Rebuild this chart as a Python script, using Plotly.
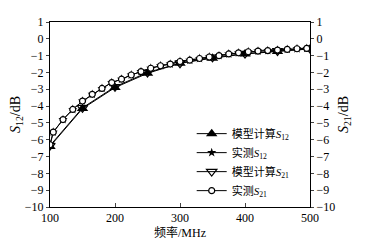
import plotly.graph_objects as go

model_freq = [100, 150, 200, 250, 300, 350, 400, 450, 500]
model_s12 = [-6.4, -4.15, -2.9, -2.05, -1.45, -1.15, -0.9, -0.75, -0.6]
model_s21 = [-6.35, -4.1, -2.85, -2.0, -1.45, -1.1, -0.88, -0.72, -0.58]

meas_freq = [100, 105, 120, 135, 150, 165, 180, 195, 210, 225, 240, 255, 270, 285,
             300, 315, 330, 345, 360, 375, 390, 405, 420, 435, 450, 465, 480, 495]
meas_s12 = [-6.3, -5.55, -4.8, -4.2, -3.7, -3.3, -2.95, -2.6, -2.4, -2.15, -1.95, -1.75,
            -1.6, -1.5, -1.35, -1.27, -1.17, -1.08, -1.0, -0.9, -0.83, -0.77, -0.73,
            -0.7, -0.67, -0.63, -0.59, -0.57]
meas_s21 = [-6.3, -5.55, -4.8, -4.2, -3.7, -3.3, -2.95, -2.6, -2.4, -2.15, -1.95, -1.75,
            -1.6, -1.5, -1.35, -1.27, -1.17, -1.08, -1.0, -0.9, -0.83, -0.77, -0.73,
            -0.7, -0.67, -0.63, -0.59, -0.57]

y_ticks = list(range(-10, 2))
x_ticks = [100, 200, 300, 400, 500]

serif = "Liberation Serif, Times New Roman, serif"
cjk = "Liberation Serif, Noto Sans CJK SC, serif"
line = dict(color="black", width=1)

fig = go.Figure()
fig.add_trace(go.Scatter(x=model_freq, y=model_s12, mode="lines+markers",
                         name="模型计算<i>S</i><sub>12</sub>", line=line,
                         marker=dict(symbol="triangle-up", size=10, color="black")))
fig.add_trace(go.Scatter(x=meas_freq, y=meas_s12, mode="lines+markers",
                         name="实测<i>S</i><sub>12</sub>", line=line,
                         marker=dict(symbol="star", size=7, color="black")))
fig.add_trace(go.Scatter(x=model_freq, y=model_s21, mode="lines+markers",
                         name="模型计算<i>S</i><sub>21</sub>", line=line,
                         marker=dict(symbol="triangle-down-open", size=9, color="black",
                                     line=dict(width=1.2))))
fig.add_trace(go.Scatter(x=meas_freq, y=meas_s21, mode="lines+markers",
                         name="实测<i>S</i><sub>21</sub>", line=line,
                         marker=dict(symbol="circle", size=6, color="white",
                                     line=dict(color="black", width=1.2))))
fig.add_trace(go.Scatter(x=[None], y=[None], yaxis="y2", showlegend=False))

fig.update_layout(
    width=370, height=239,
    margin=dict(l=42, r=68, t=14, b=40),
    paper_bgcolor="white", plot_bgcolor="white",
    font=dict(family=serif, size=12, color="black"),
    showlegend=True,
    legend=dict(x=0.545, y=0.475, xanchor="left", yanchor="top",
                bgcolor="rgba(0,0,0,0)", font=dict(family=cjk, size=11),
                tracegroupgap=0, itemwidth=30),
    xaxis=dict(range=[100, 500], tickvals=x_ticks, ticks="inside", ticklen=4,
               showline=True, linecolor="black", linewidth=1, mirror=True,
               showgrid=False, zeroline=False, automargin=False,
               title=dict(text="频率/MHz", font=dict(family=cjk, size=12), standoff=2)),
    yaxis=dict(range=[-10, 1], tickvals=y_ticks, ticks="outside", ticklen=3,
               showline=True, linecolor="black", linewidth=1,
               showgrid=False, zeroline=False, automargin=False,
               title=dict(text="<i>S</i><sub>12</sub>/dB", standoff=9)),
    yaxis2=dict(range=[-10, 1], tickvals=y_ticks, ticks="outside", ticklen=3,
                overlaying="y", side="right",
                showline=True, linecolor="black", linewidth=1,
                showgrid=False, zeroline=False, automargin=False,
                title=dict(text="<i>S</i><sub>21</sub>/dB", standoff=4)),
)

fig.write_html("out.html")
